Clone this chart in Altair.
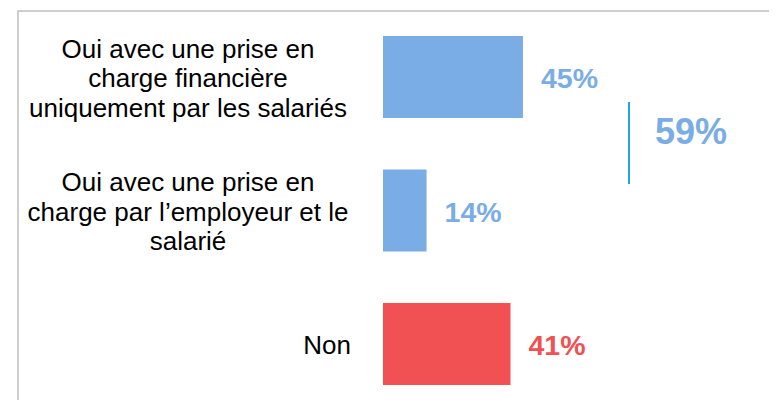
import altair as alt
import pandas as pd

categories = [
    "Oui avec une prise en\ncharge financière\nuniquement par les salariés",
    "Oui avec une prise en\ncharge par l’employeur et le\nsalarié",
    "Non",
]
values = [45, 14, 41]
groups = ["oui", "oui", "non"]

BLUE = "#7AADE5"
RED = "#F15153"
LINE = "#1FA8E0"
FONT = "Liberation Sans"
LH = 29.5

df = pd.DataFrame({"cat": categories, "value": values, "group": groups})

base = alt.Chart(df)

yenc = alt.Y(
    "cat:N",
    sort=categories,
    scale=alt.Scale(domain=categories, range=[2.25, 402.75],
                    paddingInner=0.3858, paddingOuter=0.1929),
    axis=None,
)
xenc = alt.X("value:Q", scale=alt.Scale(domain=[0, 100], range=[0, 311]), axis=None)
cenc = alt.Color("cat:N", scale=alt.Scale(domain=categories, range=[BLUE, BLUE, RED]), legend=None)

bars = base.mark_bar().encode(x=xenc, y=yenc, color=cenc)

vlabels = base.transform_calculate(lbl="format(datum.value, 'd') + '%'").mark_text(
    align="left", baseline="middle", dx=18, dy=2, font=FONT, fontSize=28.5, fontWeight="bold"
).encode(x=xenc, y=yenc, color=cenc, text="lbl:N")

# category labels (centered blocks)
centers = {categories[0]: 188 - 383, categories[1]: 188 - 383, categories[2]: 327 - 383}
cat_layers = []
for c, xc in centers.items():
    n = c.count("\n") + 1
    cat_layers.append(
        base.transform_filter(alt.datum.cat == c).mark_text(
            align="center", baseline="middle", font=FONT, fontSize=26,
            lineHeight=LH, lineBreak="\n", color="#000000",
            dy=2 - (n - 1) * LH / 2
        ).encode(x=alt.value(xc), y=yenc, text="cat:N")
    )

tot = base.transform_filter(alt.datum.group == "oui").transform_aggregate(
    total="sum(value)"
).transform_calculate(lbl="format(datum.total, 'd') + '%'")

rule = tot.mark_rule(color=LINE, strokeWidth=2).encode(
    x=alt.value(246), y=alt.value(94), y2=alt.value(176)
)
total_text = tot.mark_text(
    align="center", baseline="middle", font=FONT, fontSize=36, fontWeight="bold", color=BLUE
).encode(x=alt.value(308), y=alt.value(125), text="lbl:N")

border = alt.Chart(alt.Data(values=[{"a": 1}])).mark_rect(
    filled=False, stroke="#C0C0C0", strokeWidth=1.5
).encode(x=alt.value(-365), x2=alt.value(430), y=alt.value(3), y2=alt.value(430))

chart = alt.layer(border, bars, vlabels, *cat_layers, rule, total_text).properties(
    width=386, height=392,
    padding={"left": 375, "top": 0, "right": 0, "bottom": 0},
    autosize=alt.AutoSizeParams(type="none"),
).configure_view(stroke=None)

chart.save("out.html", embed_options={"renderer": "svg", "actions": False})
